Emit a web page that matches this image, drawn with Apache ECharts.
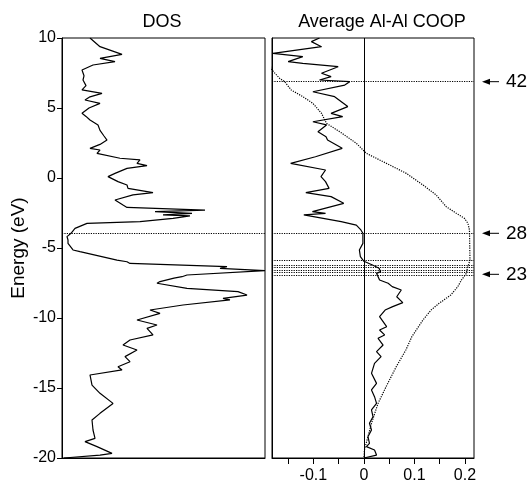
<!DOCTYPE html>
<html>
<head>
<meta charset="utf-8">
<script src="https://cdn.jsdelivr.net/npm/echarts@6/dist/echarts.min.js"></script>
<style>
html, body { margin: 0; padding: 0; background: #fff; }
#main { width: 532px; height: 489px; }
</style>
</head>
<body>
<div id="main"></div>
<script>
// DOS (arb. units) vs energy (eV)
var dosE = [10.0, 9.38, 8.83, 8.55, 8.31, 8.07, 7.71, 7.3, 7.0, 6.6, 6.29, 6.05, 5.8, 5.57, 5.33, 5.0, 4.62, 4.4, 4.14, 3.79,
    3.4, 3.0, 2.71, 2.4, 2.12, 2.0, 1.76, 1.41, 1.29, 1.05, 0.88, 0.69, 0.33, 0.10, -0.26, -0.5, -0.74, -1.05, -1.21, -1.57,
    -1.93, -2.1, -2.29, -2.4, -2.52, -2.64, -2.71, -2.88, -3.12, -3.24, -3.6, -3.95, -4.19, -4.43, -4.67, -5.14, -5.26, -5.86, -5.98, -6.1,
    -6.33, -6.45, -6.62, -6.93, -7.05, -7.15, -7.4, -7.52, -7.88, -8.12, -8.36, -8.6, -8.71, -9.07, -9.43, -9.67, -10.14, -10.5, -10.74, -11.21,
    -11.57, -11.93, -12.29, -12.76, -13.12, -13.48, -13.71, -14.07, -14.79, -15.38, -16.1, -16.81, -17.29, -18.0, -18.6, -18.83, -19.19, -19.67, -19.79, -20.0];
var dosVal = [28, 38, 60, 38, 53, 31, 20, 22, 21, 24, 20, 40, 28, 23, 38, 27, 20, 24, 28, 36,
    38, 42, 45, 38, 28, 38, 35, 58, 78, 75, 85, 65, 53, 46, 56, 65, 66, 91, 71, 53,
    61, 65, 143, 93, 130, 101, 128, 111, 78, 25, 13, 9, 5, 6, 6, 11, 18, 55, 65, 68,
    165, 158, 203, 125, 120, 112, 98, 95, 125, 176, 185, 161, 168, 121, 88, 98, 75, 95, 85, 91,
    68, 61, 75, 63, 68, 56, 60, 28, 30, 38, 51, 38, 30, 31, 33, 23, 35, 50, 38, 2];

// average Al-Al COOP
var coopE = [10.0, 9.74, 9.38, 8.9, 8.67, 8.31, 8.19, 7.95, 7.48, 7.24, 7.0, 6.88, 6.64, 6.16, 5.81, 5.1, 4.62, 4.38, 4.02, 3.79,
    3.31, 2.95, 2.71, 2.12, 1.52, 1.05, 0.57, 0.1, -0.26, -0.74, -1.05, -1.33, -1.81, -2.4, -2.52, -2.64, -3.12, -3.36, -3.71, -3.95,
    -4.67, -5.14, -5.62, -5.95, -6.21, -6.45, -6.69, -6.81, -7.29, -7.52, -7.76, -8.0, -8.48, -8.9, -9.19, -9.43, -9.9, -10.62, -10.86, -11.21,
    -11.45, -11.93, -12.4, -12.76, -13.24, -13.95, -14.67, -15.14, -15.62, -16.1, -16.57, -17.05, -17.52, -18.0, -18.48, -18.95, -19.19, -19.43, -19.79, -20.0];
var coopVal = [-0.088, -0.104, -0.084, -0.18, -0.121, -0.15, -0.121, -0.051, -0.084, -0.065, -0.088, -0.028, -0.038, -0.101, -0.058, -0.032, -0.065, -0.042, -0.101, -0.074,
    -0.091, -0.075, -0.072, -0.043, -0.096, -0.145, -0.076, -0.085, -0.076, -0.069, -0.115, -0.065, -0.04, -0.102, -0.076, -0.119, -0.045, -0.015, -0.006, -0.002,
    -0.002, -0.009, -0.007, 0.0, 0.017, 0.03, 0.033, 0.025, 0.031, 0.048, 0.056, 0.074, 0.065, 0.077, 0.057, 0.042, 0.031, 0.045, 0.031, 0.041,
    0.028, 0.038, 0.025, 0.034, 0.021, 0.015, 0.025, 0.015, 0.021, 0.025, 0.015, 0.018, 0.011, 0.015, 0.008, 0.011, 0.005, 0.021, 0.025, 0.0];

// integrated COOP (dotted)
var icoopE = [10.0, 7.71, 7.12, 6.88, 6.29, 5.81, 5.33, 4.62, 3.9, 3.31, 2.48, 1.76, 0.93, 0.33, -0.5, -1.21, -2.05, -2.52, -2.88, -3.24,
    -3.71, -5.86, -6.57, -6.81, -7.29, -7.76, -8.36, -8.95, -9.43, -10.14, -11.33, -12.29, -13.48, -14.9, -16.1, -17.52, -18.48, -19.43, -20.0];
var icoopVal = [-0.21, -0.182, -0.167, -0.157, -0.144, -0.121, -0.101, -0.084, -0.074, -0.048, -0.015, 0.005, 0.051, 0.084, 0.117, 0.143, 0.163, 0.183, 0.199, 0.206,
    0.209, 0.21, 0.204, 0.203, 0.193, 0.186, 0.172, 0.149, 0.133, 0.117, 0.095, 0.083, 0.064, 0.044, 0.028, 0.015, 0.008, 0.001, 0.0];

var fermiE = -3.95;
var levelE = [6.88, -5.86, -6.21, -6.41, -6.57, -6.76, -6.93];
var arrowE = [6.88, -3.95, -6.88];
var arrowText = ['42', '28', '23'];
var coopTicks = [-0.15, -0.1, -0.05, 0, 0.05, 0.1, 0.15, 0.2];
var coopLabels = [-0.1, 0, 0.1, 0.2];

var font = "'Liberation Sans', Arial, Helvetica, sans-serif";

function pairs(xs, es) {
    var out = [];
    for (var i = 0; i < es.length; i++) out.push([xs[i], es[i]]);
    return out;
}

var chart = echarts.init(document.getElementById('main'));
var dotted = { color: '#000', width: 1.2, type: 'dotted' };

var option = {
    animation: false,
    backgroundColor: '#fff',
    textStyle: { fontFamily: font, color: '#000' },
    grid: [
        { left: 62, top: 38, width: 203, height: 420, show: true, borderColor: '#000', borderWidth: 1 },
        { left: 272, top: 38, width: 202, height: 420, show: true, borderColor: '#000', borderWidth: 1 }
    ],
    xAxis: [
        {
            gridIndex: 0, type: 'value', min: 0, max: 203,
            axisLine: { onZero: false, lineStyle: { color: '#000' } },
            axisTick: { show: false }, axisLabel: { show: false }, splitLine: { show: false }
        },
        {
            gridIndex: 1, type: 'value', min: -0.182, max: 0.218,
            axisLine: { onZero: false, lineStyle: { color: '#000' } },
            axisTick: { show: true, length: 6, customValues: coopTicks, lineStyle: { color: '#000' } },
            axisLabel: {
                customValues: coopLabels, margin: 10, fontSize: 16, color: '#000', fontFamily: font,
                formatter: function (v) { return v === 0 ? '0' : String(v); }
            },
            splitLine: { show: false }
        }
    ],
    yAxis: [
        {
            gridIndex: 0, type: 'value', min: -20, max: 10, interval: 5,
            name: 'Energy (eV)', nameLocation: 'middle', nameGap: 34, nameRotate: 90,
            nameTextStyle: { fontSize: 19, color: '#000', fontFamily: font },
            axisLine: { onZero: false, lineStyle: { color: '#000' } },
            axisTick: { length: 5, lineStyle: { color: '#000' } },
            axisLabel: { fontSize: 16, color: '#000', margin: 6, fontFamily: font },
            splitLine: { show: false }
        },
        {
            gridIndex: 1, type: 'value', min: -20, max: 10, interval: 5,
            axisLine: { onZero: false, lineStyle: { color: '#000' } },
            axisTick: { show: false }, axisLabel: { show: false }, splitLine: { show: false }
        }
    ],
    series: [
        {
            name: 'DOS', type: 'line', xAxisIndex: 0, yAxisIndex: 0,
            data: pairs(dosVal, dosE), showSymbol: false,
            lineStyle: { color: '#000', width: 1.2 },
            markLine: {
                silent: true, symbol: 'none', label: { show: false },
                lineStyle: dotted,
                data: [{ yAxis: fermiE }]
            }
        },
        {
            name: 'COOP', type: 'line', xAxisIndex: 1, yAxisIndex: 1,
            data: pairs(coopVal, coopE), showSymbol: false,
            lineStyle: { color: '#000', width: 1.2 },
            markLine: {
                silent: true, symbol: 'none', label: { show: false },
                lineStyle: { color: '#000', width: 1, type: 'solid' },
                data: [{ xAxis: 0 }]
            }
        },
        {
            name: 'Integrated COOP', type: 'line', xAxisIndex: 1, yAxisIndex: 1,
            data: pairs(icoopVal, icoopE), showSymbol: false,
            lineStyle: { color: '#000', width: 1.2, type: 'dotted' },
            markLine: {
                silent: true, symbol: 'none', label: { show: false },
                lineStyle: dotted,
                data: [fermiE].concat(levelE).map(function (e) { return { yAxis: e }; })
            }
        }
    ]
};
chart.setOption(option);

// titles and the level arrows on the right
var graphics = [
    { type: 'text', x: 162, y: 22, style: { text: 'DOS', font: '18px ' + font, fill: '#000', textAlign: 'center', textVerticalAlign: 'middle' } },
    { type: 'text', x: 382, y: 22, style: { text: 'Average Al-Al COOP', font: '18px ' + font, fill: '#000', textAlign: 'center', textVerticalAlign: 'middle' } }
];
arrowE.forEach(function (e, i) {
    var y = chart.convertToPixel({ gridIndex: 1 }, [0, e])[1];
    graphics.push({ type: 'polygon', shape: { points: [[482, y], [490, y - 3], [490, y + 3]] }, style: { fill: '#000' } });
    graphics.push({ type: 'line', shape: { x1: 488, y1: y, x2: 499, y2: y }, style: { stroke: '#000', lineWidth: 1 } });
    graphics.push({ type: 'text', x: 506, y: y, style: { text: arrowText[i], font: '19px ' + font, fill: '#000', textVerticalAlign: 'middle' } });
});
chart.setOption({ graphic: graphics });
</script>
</body>
</html>
